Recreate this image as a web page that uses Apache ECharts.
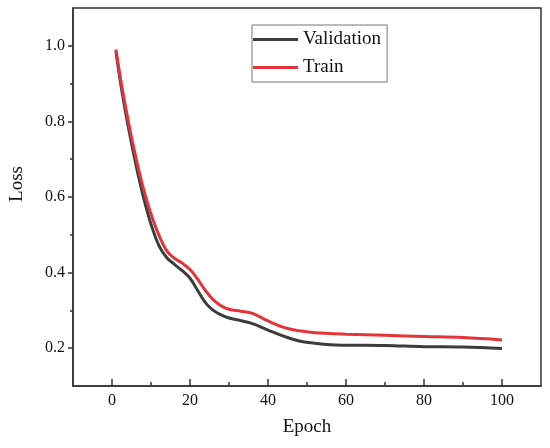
<!DOCTYPE html>
<html>
<head>
<meta charset="utf-8">
<script src="https://cdn.jsdelivr.net/npm/echarts@6/dist/echarts.min.js"></script>
<style>
html,body{margin:0;padding:0;background:#fff;}
#c{width:550px;height:448px;}
</style>
</head>
<body>
<div id="c"></div>
<script>
const epochs = [1,2,3,4,5,6,7,8,9,10,12,14,16,18,20,22,24,26,28,30,33,36,40,44,48,52,56,60,70,80,90,100];
const validation = [0.985,0.915,0.852,0.795,0.742,0.692,0.645,0.602,0.563,0.528,0.472,0.44,0.422,0.405,0.385,0.352,0.32,0.30,0.288,0.28,0.273,0.265,0.248,0.232,0.219,0.213,0.209,0.208,0.207,0.204,0.203,0.199];
const train = [0.99,0.925,0.865,0.81,0.758,0.71,0.665,0.624,0.588,0.555,0.50,0.458,0.438,0.425,0.408,0.382,0.352,0.328,0.312,0.303,0.298,0.292,0.272,0.255,0.246,0.241,0.239,0.237,0.234,0.231,0.228,0.222];
const xMajorTicks = [0,20,40,60,80,100];
const xMinorTicks = [10,30,50,70,90];
const yMajorTicks = [0.2,0.4,0.6,0.8,1.0];
const yMinorTicks = [0.3,0.5,0.7,0.9];

const font = 'Liberation Serif';
const axisColor = '#333';
const chart = echarts.init(document.getElementById('c'));
chart.setOption({
  animation: false,
  backgroundColor: '#fff',
  grid: {left: 72, right: 9, top: 8, bottom: 62, show: true, borderColor: axisColor, borderWidth: 1.5, backgroundColor: 'transparent'},
  legend: {
    orient: 'vertical', left: 252, top: 25,
    data: ['Validation','Train'],
    icon: 'rect',
    itemWidth: 45, itemHeight: 3, itemGap: 9,
    padding: [5, 6, 5, 1],
    borderColor: '#777', borderWidth: 1, backgroundColor: '#fff',
    textStyle: {fontFamily: font, fontSize: 19, color: '#111', lineHeight: 14}
  },
  xAxis: [{
    type: 'value', min: -10, max: 110,
    name: 'Epoch', nameLocation: 'middle', nameGap: 32,
    nameTextStyle: {fontFamily: font, fontSize: 19, color: '#111'},
    axisLine: {show: true, onZero: false, lineStyle: {color: axisColor, width: 1.5}},
    axisTick: {show: true, inside: true, length: 7, customValues: xMajorTicks, lineStyle: {color: axisColor, width: 1.5}},
    axisLabel: {customValues: xMajorTicks, margin: 7, fontFamily: font, fontSize: 16, color: '#111'},
    splitLine: {show: false}
  }, {
    type: 'value', min: -10, max: 110, position: 'bottom',
    axisLine: {show: false, onZero: false},
    axisTick: {show: true, inside: true, length: 4, customValues: xMinorTicks, lineStyle: {color: axisColor, width: 1.5}},
    axisLabel: {show: false},
    splitLine: {show: false}
  }],
  yAxis: [{
    type: 'value', min: 0.1, max: 1.1,
    name: 'Loss', nameLocation: 'middle', nameGap: 46, nameRotate: 90,
    nameTextStyle: {fontFamily: font, fontSize: 19, color: '#111', padding: [0, 0, 0, 26]},
    axisLine: {show: true, onZero: false, lineStyle: {color: axisColor, width: 1.5}},
    axisTick: {show: true, inside: false, length: 5, customValues: yMajorTicks, lineStyle: {color: axisColor, width: 1.5}},
    axisLabel: {customValues: yMajorTicks, margin: 8, fontFamily: font, fontSize: 16, color: '#111', formatter: v => v.toFixed(1)},
    splitLine: {show: false}
  }, {
    type: 'value', min: 0.1, max: 1.1, position: 'left',
    axisLine: {show: false, onZero: false},
    axisTick: {show: true, inside: false, length: 3, customValues: yMinorTicks, lineStyle: {color: axisColor, width: 1.5}},
    axisLabel: {show: false},
    splitLine: {show: false}
  }],
  series: [{
    name: 'Validation', type: 'line', symbol: 'none', smooth: 0.4,
    data: epochs.map((e, i) => [e, validation[i]]),
    lineStyle: {color: '#3c3c3c', width: 3},
    itemStyle: {color: '#3c3c3c'},
    z: 2
  }, {
    name: 'Train', type: 'line', symbol: 'none', smooth: 0.4,
    data: epochs.map((e, i) => [e, train[i]]),
    lineStyle: {color: '#e3343a', width: 3},
    itemStyle: {color: '#e3343a'},
    z: 3
  }]
});
</script>
</body>
</html>
